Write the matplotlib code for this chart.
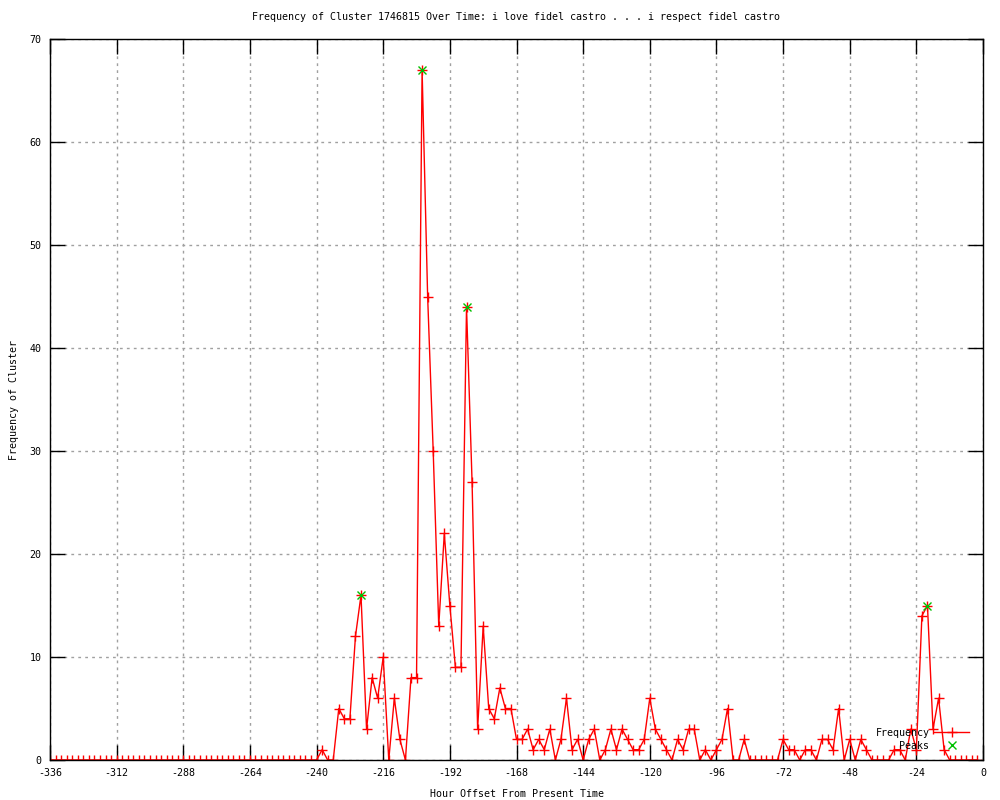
import matplotlib
matplotlib.use("Agg")
import matplotlib.pyplot as plt

# hour offsets, every 2 hours
hours = list(range(-336, 0, 2))

# frequency per 2 hour bin
freq = ([0] * 49 +
        [1, 0, 0, 5, 4, 4, 12, 16, 3, 8, 6, 10, 0, 6, 2, 0, 8, 8,
         67, 45, 30, 13, 22, 15, 9, 9, 44, 27, 3, 13, 5, 4, 7, 5, 5,
         2, 2, 3, 1, 2, 1, 3, 0, 2, 6, 1, 2, 0, 2, 3, 0, 1, 3, 1, 3,
         2, 1, 1, 2, 6, 3, 2, 1, 0, 2, 1, 3, 3, 0, 1, 0, 1, 2, 5, 0,
         0, 2, 0, 0, 0, 0, 0, 0, 2, 1, 1, 0, 1, 1, 0, 2, 2, 1, 5, 0,
         2, 0, 2, 1, 0, 0, 0, 0, 1, 1, 0, 3, 1, 14, 15, 3, 6, 1,
         0, 0, 0, 0, 0, 0])

peak_hours = [-224, -202, -186, -20]
peak_vals = [16, 67, 44, 15]

xticks = list(range(-336, 1, 24))
yticks = list(range(0, 71, 10))

title = "Frequency of Cluster 1746815 Over Time: i love fidel castro . . . i respect fidel castro"

plt.rcParams['font.family'] = ['DejaVu Sans Mono']
plt.rcParams['axes.unicode_minus'] = False
fs = 7.2

fig = plt.figure(figsize=(10, 8), dpi=100)
ax = fig.add_axes([0.050, 0.050, 0.933, 0.901])

ax.plot(hours, freq, color='red', linewidth=1, marker='+', markersize=7,
        markeredgewidth=1, label='Frequency')
ax.plot(peak_hours, peak_vals, linestyle='none', color='#00c000', marker='x',
        markersize=5.5, markeredgewidth=1, label='Peaks')

ax.set_xlim(-336, 0)
ax.set_ylim(0, 70)
ax.set_xticks(xticks)
ax.set_yticks(yticks)
ax.tick_params(direction='in', length=11, width=1, labelsize=fs,
               top=True, right=True, pad=6)
ax.grid(True, color='#a0a0a0', linestyle=(0, (2, 3)), linewidth=1)
for s in ax.spines.values():
    s.set_linewidth(1)

ax.set_title(title, fontsize=fs, pad=14)
ax.set_xlabel("Hour Offset From Present Time", fontsize=fs, labelpad=8)
ax.set_ylabel("Frequency of Cluster", fontsize=fs, labelpad=8)

ax.legend(loc='lower right', bbox_to_anchor=(0.993, 0.003), frameon=False,
          markerfirst=False, fontsize=fs, handlelength=3.5, labelspacing=0.3,
          handletextpad=0.5, borderpad=0.2)

fig.savefig("out.png", dpi=100)
